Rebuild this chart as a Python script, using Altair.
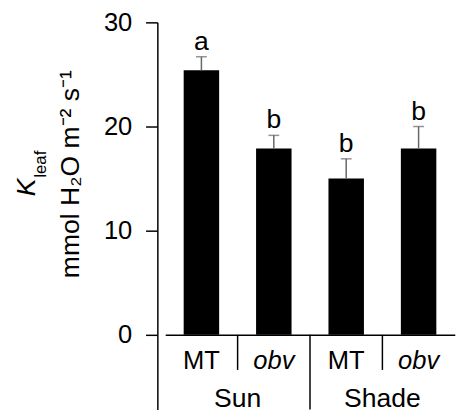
import altair as alt
import pandas as pd

# ---- data ----
groups = ["Sun", "Sun", "Shade", "Shade"]
genotypes = ["MT", "obv", "MT", "obv"]
means = [25.4, 17.9, 15.0, 17.9]
errors = [1.3, 1.25, 1.9, 2.1]
letters = ["a", "b", "b", "b"]
y_ticks = [0, 10, 20, 30]

title_k = "K"
title_sub = "leaf"
title_units = "mmol H\u2082O m\u207b\u00b2 s\u207b\u00b9"

FONT = "Liberation Sans"

df = pd.DataFrame({
    "group": groups,
    "genotype": genotypes,
    "mean": means,
    "err": errors,
    "letter": letters,
})
df["key"] = df["group"] + " " + df["genotype"]
df["upper"] = df["mean"] + df["err"]
order = list(df["key"])

x_scale = alt.Scale(range=[8, 302.7], paddingInner=0, paddingOuter=0)
y_scale = alt.Scale(domain=[-7.17, 30], nice=False, zero=False)


def X(**kw):
    return alt.X("key:N", sort=order, scale=x_scale, axis=None, **kw)


y_axis = alt.Axis(
    values=y_ticks, title=None,
    tickSize=12, tickWidth=1.5, tickColor="black",
    domainColor="black", domainWidth=1.5,
    labelFont=FONT, labelFontSize=26, labelColor="black", labelPadding=14,
    grid=True, gridWidth=1.5,
    gridColor={"condition": {"test": "datum.value === 0", "value": "black"},
               "value": "transparent"},
)

base = alt.Chart(df)

bars = base.mark_bar(color="black", width=alt.RelativeBandSize(0.49)).encode(
    x=X(),
    y=alt.Y("mean:Q", scale=y_scale, axis=y_axis),
    y2=alt.datum(0),
)

err_rule = base.mark_rule(color="#666666", strokeWidth=1.5).encode(
    x=X(), y="mean:Q", y2="upper:Q"
)
err_cap = base.mark_tick(color="#666666", thickness=1.5, size=11).encode(
    x=X(), y="upper:Q"
)
sig = base.mark_text(font=FONT, fontSize=27, baseline="alphabetic", dy=-7,
                     color="black").encode(
    x=X(), y="upper:Q", text="letter:N"
)

lab_mt = base.transform_filter(alt.datum.genotype == "MT").mark_text(
    font=FONT, fontSize=26, baseline="alphabetic", color="black"
).encode(x=X(), y=alt.datum(-3.25), text="genotype:N")
lab_obv = base.transform_filter(alt.datum.genotype == "obv").mark_text(
    font=FONT, fontSize=26, fontStyle="italic", baseline="alphabetic", color="black"
).encode(x=X(), y=alt.datum(-3.25), text="genotype:N")

sep_short = base.transform_filter(alt.datum.genotype == "obv").mark_rule(
    color="black", strokeWidth=1.5
).encode(x=X(bandPosition=0), y=alt.datum(0), y2=alt.datum(-3.37))
sep_long = base.transform_filter(alt.datum.key == "Shade MT").mark_rule(
    color="black", strokeWidth=1.5
).encode(x=X(bandPosition=0), y=alt.datum(0), y2=alt.datum(-7.17))

grp = base.transform_filter(alt.datum.genotype == "obv").mark_text(
    font=FONT, fontSize=27, baseline="alphabetic", color="black"
).encode(x=X(bandPosition=0), y=alt.datum(-6.9), text="group:N")

tdf = alt.Chart(pd.DataFrame({"k": [title_k], "s": [title_sub], "u": [title_units]}))
t_k = tdf.mark_text(font=FONT, fontSize=27, fontStyle="italic", angle=270,
                    align="right", baseline="alphabetic", color="black").encode(
    x=alt.value(-125), y=alt.value(159), text="k:N")
t_s = tdf.mark_text(font=FONT, fontSize=17, angle=270,
                    align="left", baseline="alphabetic", color="black").encode(
    x=alt.value(-113), y=alt.value(158), text="s:N")
t_u = tdf.mark_text(font=FONT, fontSize=27, angle=270,
                    align="center", baseline="alphabetic", color="black").encode(
    x=alt.value(-80), y=alt.value(154.5), text="u:N")

chart = alt.layer(
    bars, err_rule, err_cap, sig, lab_mt, lab_obv, sep_short, sep_long, grp,
    t_k, t_s, t_u
).properties(
    width=308, height=394,
    autosize=alt.AutoSizeParams(type="none"),
    padding={"left": 152, "top": 11, "right": 0, "bottom": 4},
    background="white",
).configure_view(stroke=None)

chart.save("out.html", embed_options={"renderer": "svg", "actions": False})
